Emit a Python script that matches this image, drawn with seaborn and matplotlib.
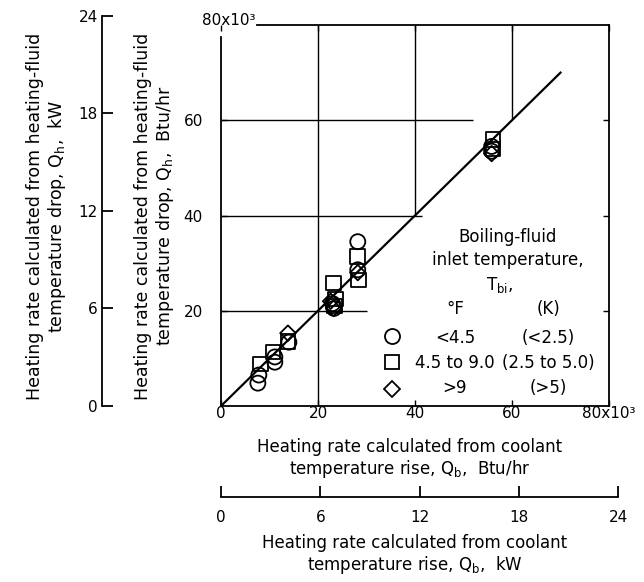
import matplotlib
matplotlib.use("Agg")
import matplotlib.pyplot as plt
from matplotlib.lines import Line2D
import pandas as pd
import seaborn as sns

# heating rates in 10^3 Btu/hr
# qb = from coolant temperature rise (x), qh = from heating-fluid drop (y)
circle_qb = [7.6, 7.8, 11.1, 11.1, 14.0, 23.0, 23.3, 28.2, 28.2, 55.8, 55.8]
circle_qh = [4.8, 6.5, 9.2, 10.3, 13.4, 21.5, 20.5, 34.5, 28.6, 54.5, 53.5]
square_qb = [8.2, 10.7, 13.8, 23.2, 23.4, 23.6, 28.2, 28.3, 56.1, 56.1]
square_qh = [8.8, 11.3, 13.5, 25.8, 21.0, 22.5, 31.4, 26.5, 55.9, 54.0]
diamond_qb = [13.8, 22.6, 23.2, 28.2, 55.8]
diamond_qh = [15.3, 22.0, 20.5, 28.0, 53.0]

groups_f = ["<4.5", "4.5 to 9.0", ">9"]
groups_k = ["(<2.5)", "(2.5 to 5.0)", "(>5)"]

# 45 degree reference line
fit_qb = [0, 70]
fit_qh = [0, 70]

btu_ticks = [0, 20, 40, 60, 80]
btu_labels = ["0", "20", "40", "60", "80x10³"]
kw_ticks = [0, 6, 12, 18, 24]
KW_TO_KBTU = 3.41214

W, H = 644, 582
def fx(px): return px / W
def fy(py): return 1 - py / H

plt.rcParams['font.family'] = ['DejaVu Sans']
plt.rcParams['mathtext.default'] = 'regular'
plt.rcParams['axes.edgecolor'] = 'black'

df = pd.concat([
    pd.DataFrame({'qb': circle_qb, 'qh': circle_qh, 'tbi': groups_f[0]}),
    pd.DataFrame({'qb': square_qb, 'qh': square_qh, 'tbi': groups_f[1]}),
    pd.DataFrame({'qb': diamond_qb, 'qh': diamond_qh, 'tbi': groups_f[2]}),
], ignore_index=True)

marker_map = dict(zip(groups_f, ['o', 's', 'D']))
size_map = dict(zip(groups_f, [117, 110, 62]))

fig = plt.figure(figsize=(6.44, 5.82), dpi=100)

# main axes, Btu/hr
x0, x1, y0, y1 = 221, 609, 406, 25
ax = fig.add_axes([fx(x0), fy(y0), (x1 - x0) / W, (y0 - y1) / H])
ax.set_xlim(0, 80)
ax.set_ylim(0, 80)

# partial grid as in the original drawing
ax.vlines(20, 0, 80, color='black', lw=1.0)
ax.vlines(40, 40, 80, color='black', lw=1.0)
ax.vlines(60, 60, 80, color='black', lw=1.0)
ax.hlines(20, 0, 30, color='black', lw=1.0)
ax.hlines(40, 0, 41.5, color='black', lw=1.0)
ax.hlines(60, 0, 52, color='black', lw=1.0)

sns.lineplot(x=fit_qb, y=fit_qh, color='black', linewidth=1.6, ax=ax)
sns.scatterplot(data=df, x='qb', y='qh', style='tbi', style_order=groups_f,
                markers=marker_map, size='tbi', sizes=size_map,
                facecolor='none', edgecolor='black', linewidth=1.3,
                legend=False, ax=ax, zorder=3)

for s in ax.spines.values():
    s.set_linewidth(1.3)
ax.spines['top'].set_bounds(7.5, 80)
ax.spines['left'].set_bounds(0, 77.5)

ax.set_xticks(btu_ticks)
ax.set_xticklabels(btu_labels)
ax.set_yticks([20, 40, 60])
ax.tick_params(direction='in', length=4, width=1, top=True, right=True,
               labelsize=11, colors='black')
ax.tick_params(axis='x', pad=0)
ax.tick_params(axis='y', pad=13)
ax.set_xlabel('')
ax.set_ylabel('')
fig.text(fx(256), fy(25), "80x10³", ha='right', va='baseline', fontsize=11)

# kW scale on the left
kw_h = 24 * KW_TO_KBTU * (y0 - y1) / 80
axl = fig.add_axes([fx(102), fy(y0), 1e-4, kw_h / H])
axl.set_ylim(0, 24)
axl.set_yticks(kw_ticks)
axl.set_xticks([])
axl.patch.set_visible(False)
for k in ['top', 'right', 'bottom']:
    axl.spines[k].set_visible(False)
axl.spines['left'].set_linewidth(1.3)
axl.tick_params(axis='y', direction='in', length=8, width=1.3, pad=3,
                labelsize=11, colors='black')

# kW scale at the bottom
kw_w = 24 * KW_TO_KBTU * (x1 - x0) / 80
axb = fig.add_axes([fx(x0), fy(497), kw_w / W, 1e-4])
axb.set_xlim(0, 24)
axb.set_xticks(kw_ticks)
axb.set_yticks([])
axb.patch.set_visible(False)
for k in ['top', 'right', 'left']:
    axb.spines[k].set_visible(False)
axb.spines['bottom'].set_linewidth(1.3)
axb.tick_params(axis='x', direction='in', length=8, width=1.3, pad=9,
                labelsize=11, colors='black')

# axis titles
lab_kw = dict(ha='center', va='center', multialignment='center', linespacing=1.15)
fig.text(fx(47), fy(216), "Heating rate calculated from heating-fluid\ntemperature drop, $Q_h$,  kW",
         rotation=90, fontsize=12.5, **lab_kw)
fig.text(fx(155), fy(216), "Heating rate calculated from heating-fluid\ntemperature drop, $Q_h$,  Btu/hr",
         rotation=90, fontsize=12.5, **lab_kw)
fig.text(fx(410), fy(459), "Heating rate calculated from coolant\ntemperature rise, $Q_b$,  Btu/hr",
         fontsize=12, **lab_kw)
fig.text(fx(415), fy(555), "Heating rate calculated from coolant\ntemperature rise, $Q_b$,  kW",
         fontsize=12, **lab_kw)

# legend block
leg_fs = 12
fig.text(fx(508), fy(237), "Boiling-fluid", fontsize=leg_fs, ha='center', va='center')
fig.text(fx(508), fy(260), "inlet temperature,", fontsize=leg_fs, ha='center', va='center')
fig.text(fx(500), fy(285), "$T_{bi}$,", fontsize=leg_fs, ha='center', va='center')
fig.text(fx(455), fy(309), "°F", fontsize=leg_fs, ha='center', va='center')
fig.text(fx(548), fy(309), "(K)", fontsize=leg_fs, ha='center', va='center')

handles = [Line2D([], [], ls='none', marker=marker_map[g], markersize=size_map[g] ** 0.5,
                  mfc='none', mec='black', mew=1.3) for g in groups_f]
ax.legend(handles, ['', '', ''], loc='center', bbox_to_anchor=(fx(392), fy(363)),
          bbox_transform=fig.transFigure, frameon=False, borderpad=0, borderaxespad=0,
          handlelength=1.0, handletextpad=0, labelspacing=0.5, fontsize=leg_fs)

row_y = [338, 363, 388]
for yy, f, k in zip(row_y, groups_f, groups_k):
    fig.text(fx(455), fy(yy), f, fontsize=leg_fs, ha='center', va='center')
    fig.text(fx(548), fy(yy), k, fontsize=leg_fs, ha='center', va='center')

fig.savefig('out.png', dpi=100)
